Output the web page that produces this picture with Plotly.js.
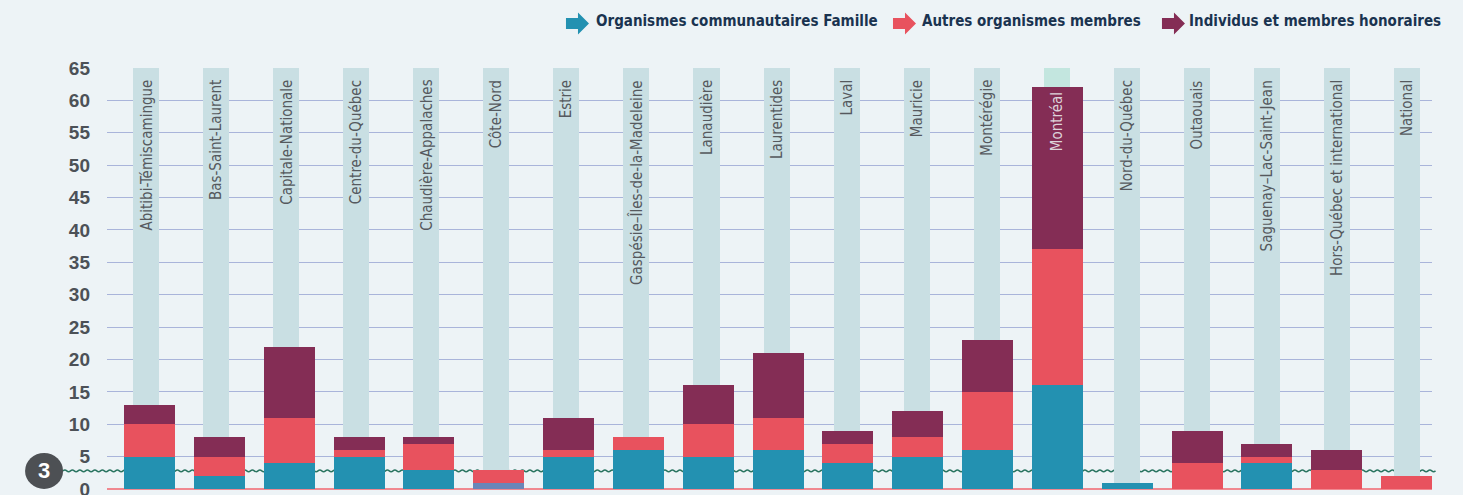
<!DOCTYPE html>
<html>
<head>
<meta charset="utf-8">
<script src="https://cdn.plot.ly/plotly-3.0.1.min.js"></script>
<style>
  html, body { margin: 0; padding: 0; background: #edf3f6; }
  #chart { width: 1463px; height: 495px; }
</style>
</head>
<body>
<div id="chart"></div>
<script>
// Membres par région
const regions = [
  'Abitibi-Témiscamingue', 'Bas-Saint-Laurent', 'Capitale-Nationale', 'Centre-du-Québec',
  'Chaudière-Appalaches', 'Côte-Nord', 'Estrie', 'Gaspésie–Îles-de-la-Madeleine',
  'Lanaudière', 'Laurentides', 'Laval', 'Mauricie', 'Montérégie', 'Montréal',
  'Nord-du-Québec', 'Outaouais', 'Saguenay–Lac-Saint-Jean', 'Hors-Québec et international', 'National'
];
const famille   = [5, 2, 4, 5, 3, 1, 5, 6, 5, 6, 4, 5, 6, 16, 1, 0, 4, 0, 0];
const autres    = [5, 3, 7, 1, 4, 2, 1, 2, 5, 5, 3, 3, 9, 21, 0, 4, 1, 3, 2];
const individus = [3, 3, 11, 2, 1, 0, 5, 0, 6, 10, 2, 4, 8, 25, 0, 5, 2, 3, 0];
const yMax = 65;
const seuil = 2.8; // ligne ondulée

const names = ['Organismes communautaires Famille', 'Autres organismes membres', 'Individus et membres honoraires'];
const colors = ['#2391b1', '#e8525e', '#842d55'];

const idx = regions.map((r, i) => i);
const highlight = regions.indexOf('Montréal');

// colonnes de fond
const columns = {
    x: idx,
    y: regions.map(() => yMax),
    type: 'bar',
    width: 0.372,
    marker: { color: regions.map((r, i) => i === highlight ? '#c3e6df' : '#c9dfe3') },
    xaxis: 'x', yaxis: 'y',
    hoverinfo: 'skip',
    showlegend: false
};

const stacks = [famille, autres, individus].map((vals, k) => ({
    x: idx,
    y: vals,
    type: 'bar',
    name: names[k],
    width: 0.73,
    marker: {
        color: k === 0 ? regions.map(r => r === 'Côte-Nord' ? '#6a86b8' : colors[0]) : colors[k],
        line: { width: 0 }
    },
    xaxis: 'x2', yaxis: 'y',
    showlegend: false
}));

// étiquettes verticales
const labels = regions.map((r, i) => ({
    x: i, y: yMax, xref: 'x', yref: 'y',
    text: r,
    textangle: -90,
    yanchor: 'top', xanchor: 'center',
    yshift: i === highlight ? -22 : -10,
    showarrow: false,
    font: { family: 'DejaVu Sans Condensed, sans-serif', size: 15,
            color: i === highlight ? '#ddd3da' : '#55595e' }
}));

// légende faite main : flèche + texte
const legendArrowX = [0.3464, 0.5932, 0.7962];
const legendTextX = [0.3675, 0.6136, 0.8151];
const legendY = 1.1057;
const legend = names.map((n, k) => ({
    x: legendTextX[k], y: 1.1105, xref: 'paper', yref: 'paper',
    xanchor: 'left', yanchor: 'middle', showarrow: false,
    text: n, font: { family: 'DejaVu Sans Condensed, sans-serif', size: 15, weight: 'bold', color: '#1a3350' }
}));
const arrows = colors.map((c, k) => ({
    type: 'path', xref: 'paper', yref: 'paper', layer: 'above',
    xsizemode: 'pixel', ysizemode: 'pixel',
    xanchor: legendArrowX[k], yanchor: legendY,
    path: 'M0,-5.5 L12,-5.5 L12,-11 L23,0 L12,11 L12,5.5 L0,5.5 Z',
    fillcolor: c, line: { width: 0 }
}));

// ligne ondulée (décor)
function wavePath(x0, x1, y, period, amp) {
    let d = 'M' + x0 + ',' + y;
    let up = true;
    for (let x = x0; x < x1; x += period / 2) {
        const cx = x + period / 4;
        const ex = x + period / 2;
        d += ' Q' + cx + ',' + (y + (up ? amp : -amp)) + ' ' + ex + ',' + y;
        up = !up;
    }
    return d;
}

const badgeX = -0.0475;
const shapes = [
    {
        type: 'path', xref: 'paper', yref: 'paper', layer: 'below',
        path: wavePath(-0.0332, 1.0008, seuil / yMax, 7.5 / 1325, 1.6 / 421),
        line: { color: '#2a7561', width: 1.5 }
    },
    {
        type: 'circle', xref: 'paper', yref: 'paper', layer: 'above',
        xsizemode: 'pixel', ysizemode: 'pixel',
        xanchor: badgeX, yanchor: 0.043,
        x0: -19, x1: 19, y0: -18, y1: 18,
        fillcolor: '#4d5054', line: { width: 0 }
    }
].concat(arrows);

const badge = {
    x: badgeX, y: 0.043, xref: 'paper', yref: 'paper',
    xanchor: 'center', yanchor: 'middle', showarrow: false,
    text: '3', font: { family: 'Liberation Sans, Arial, sans-serif', size: 22, weight: 'bold', color: '#ffffff' }
};

const layout = {
    width: 1463, height: 495,
    margin: { l: 107, r: 31, t: 68, b: 6 },
    paper_bgcolor: '#edf3f6',
    plot_bgcolor: 'rgba(0,0,0,0)',
    barmode: 'stack',
    bargap: 0,
    showlegend: false,
    xaxis: { range: [-0.557, 18.356], showticklabels: false, showgrid: false, zeroline: false, fixedrange: true },
    xaxis2: { range: [-0.61, 18.365], overlaying: 'x', showticklabels: false, showgrid: false, zeroline: false, fixedrange: true },
    yaxis: {
        range: [0, yMax],
        dtick: 5,
        tick0: 0,
        gridcolor: '#a9b4da',
        gridwidth: 1,
        zeroline: true,
        zerolinecolor: '#f08890',
        zerolinewidth: 1.5,
        showline: false,
        ticks: '',
        ticklabelstandoff: 16,
        ticklabeloverflow: 'allow',
        tickfont: { family: 'Liberation Sans, Arial, sans-serif', size: 19, weight: 'bold', color: '#4c5157' },
        fixedrange: true
    },
    shapes: shapes,
    annotations: labels.concat(legend, [badge])
};

Plotly.newPlot('chart', [columns].concat(stacks), layout, { displayModeBar: false, staticPlot: true });
</script>
</body>
</html>
